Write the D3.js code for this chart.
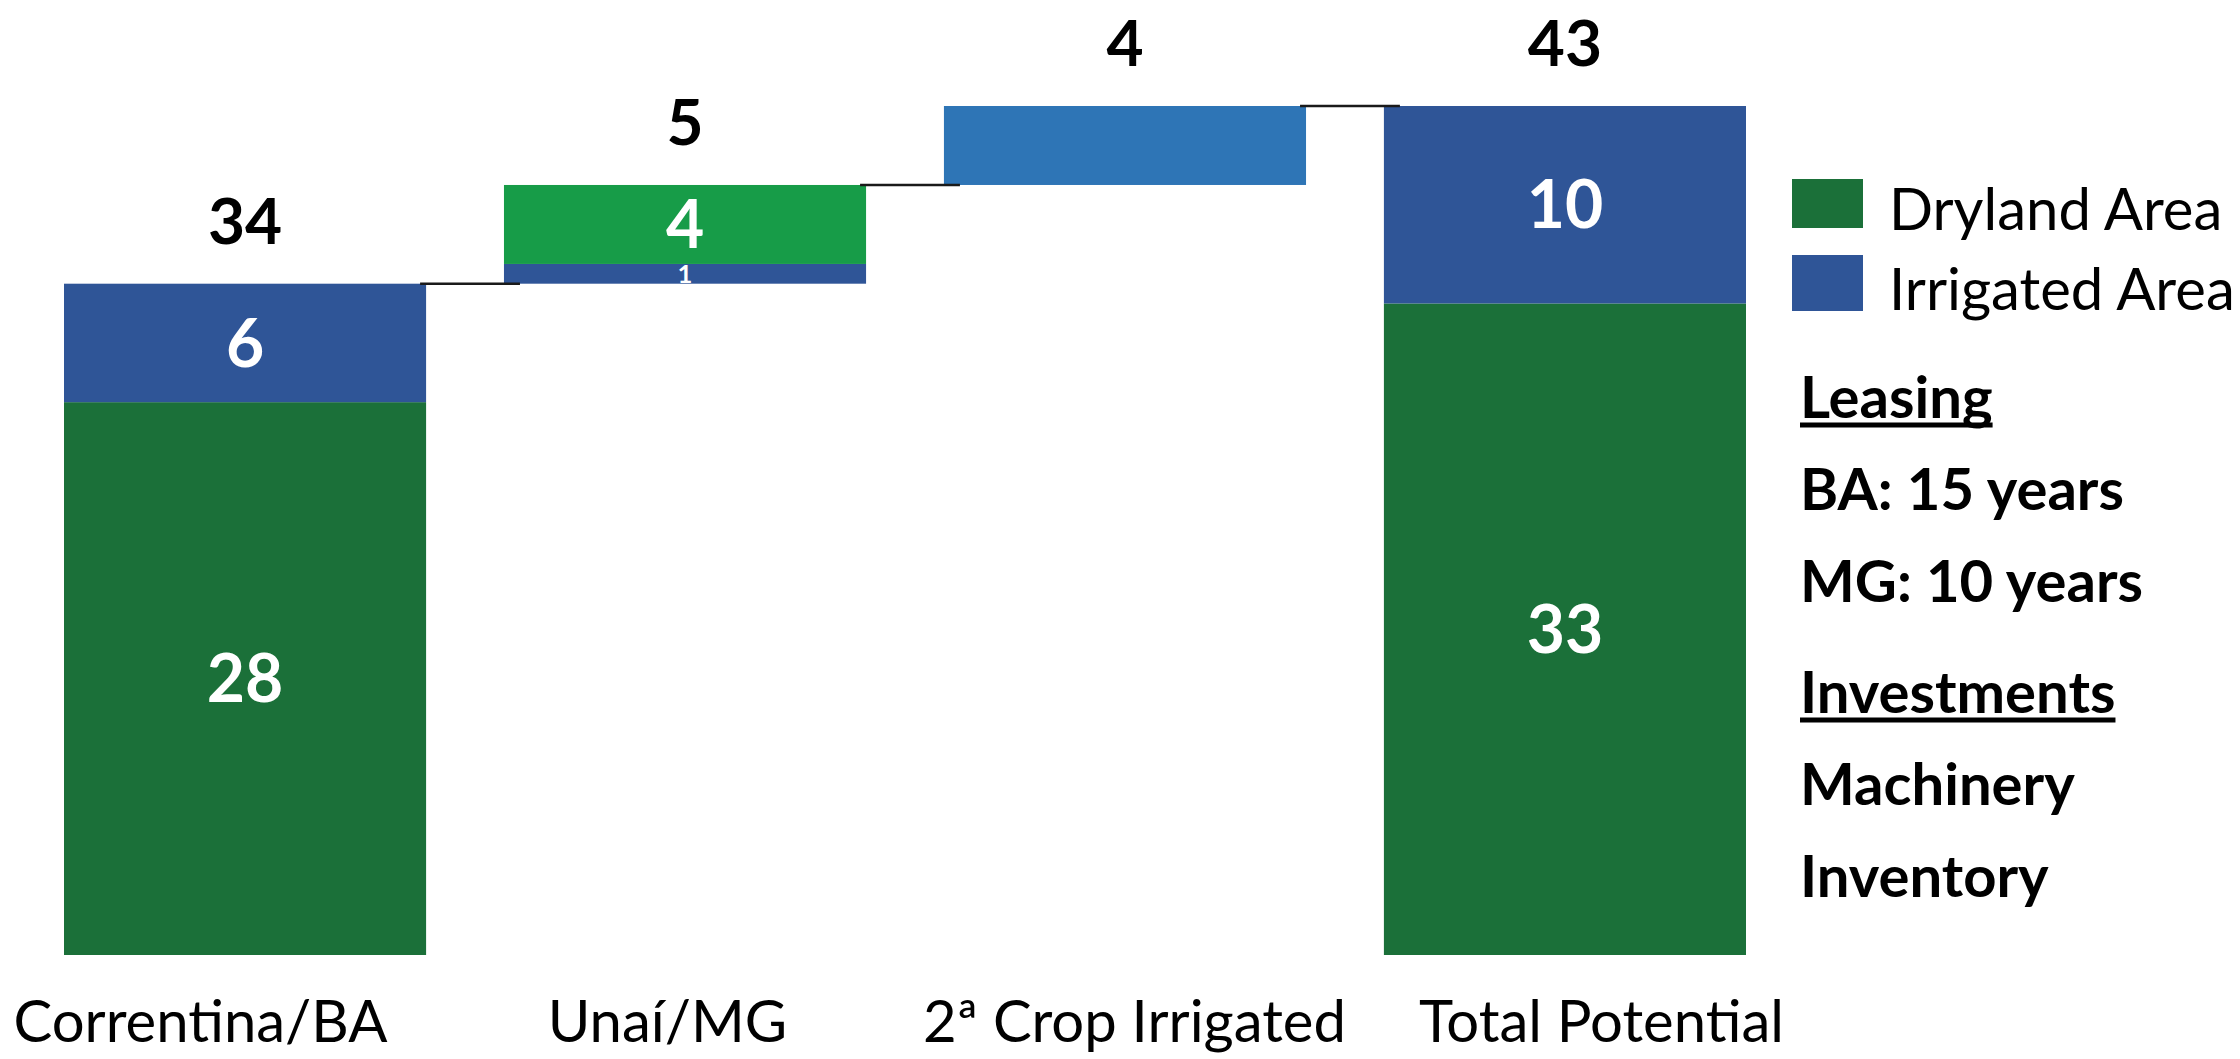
<!DOCTYPE html>
<html>
<head>
<meta charset="utf-8">
<script src="https://cdn.jsdelivr.net/npm/d3@7"></script>
<style>
  body { margin: 0; background: #fff; }
  svg { display: block; font-family: Lato, "Open Sans", sans-serif; }
</style>
</head>
<body>
<svg id="chart"></svg>
<script>
// values
const categories = ["Correntina/BA", "Unaí/MG", "2ª Crop Irrigated", "Total Potential"]
const dryland = [28, 4, 0, 33]
const irrigated = [6, 1, 4, 10]
const isTotal = [false, false, false, true]
const irrigatedBelow = [false, true, true, false]
const legendItems = ["Dryland Area", "Irrigated Area"]
const noteLines = ["Leasing", "BA: 15 years", "MG: 10 years", "Investments", "Machinery", "Inventory"]
const noteHeads = ["Leasing", "Investments"]

const width = 2240, height = 1059

const svg = d3.select("#chart")
  .attr("width", width)
  .attr("height", height)

// waterfall bases
let running = 0
const bars = categories.map(function(c, i) {
  const total = dryland[i] + irrigated[i]
  const base = isTotal[i] ? 0 : running
  if (!isTotal[i]) running += total
  return {cat: c, i: i, base: base, total: total, top: base + total}
})

const x = d3.scaleBand()
  .domain(categories)
  .range([64, 1746])
  .paddingInner(0.177)

const y = d3.scaleLinear()
  .domain([0, d3.max(bars, function(d) { return d.top })])
  .range([955, 106])

const bw = x.bandwidth()

function fillFor(kind, i) {
  if (kind === "dry") return i === 1 ? "#179C48" : "#1B7039"
  return i === 2 ? "#2E75B6" : "#2F5597"
}

// segments
const segments = []
bars.forEach(function(b) {
  const parts = irrigatedBelow[b.i]
    ? [["irr", irrigated[b.i]], ["dry", dryland[b.i]]]
    : [["dry", dryland[b.i]], ["irr", irrigated[b.i]]]
  let lo = b.base
  parts.forEach(function(p) {
    if (p[1] > 0) {
      segments.push({i: b.i, cat: b.cat, kind: p[0], v: p[1], lo: lo, hi: lo + p[1], single: dryland[b.i] === 0 || irrigated[b.i] === 0})
    }
    lo += p[1]
  })
})

svg.append("g").selectAll("rect")
  .data(segments)
  .enter().append("rect")
  .attr("x", function(d) { return x(d.cat) })
  .attr("width", bw)
  .attr("y", function(d) { return y(d.hi) })
  .attr("height", function(d) { return y(d.lo) - y(d.hi) })
  .attr("fill", function(d) { return fillFor(d.kind, d.i) })

// connectors
const links = bars.slice(0, -1)
svg.append("g").selectAll("line")
  .data(links)
  .enter().append("line")
  .attr("x1", function(d) { return x(d.cat) + bw - 6 })
  .attr("x2", function(d) { return x(categories[d.i + 1]) + 16 })
  .attr("y1", function(d) { return y(d.top) })
  .attr("y2", function(d) { return y(d.top) })
  .attr("stroke", "#1a1a1a")
  .attr("stroke-width", 2.5)

// inside labels
svg.append("g").selectAll("text")
  .data(segments.filter(function(d) { return !d.single }))
  .enter().append("text")
  .attr("x", function(d) { return x(d.cat) + bw / 2 })
  .attr("y", function(d) { return (y(d.lo) + y(d.hi)) / 2 })
  .attr("dy", "0.36em")
  .attr("text-anchor", "middle")
  .attr("fill", "#fff")
  .attr("font-weight", 700)
  .attr("font-size", function(d) { return Math.min(66, (y(d.lo) - y(d.hi)) * 1.3) })
  .text(function(d) { return d.v })

// totals above bars
svg.append("g").selectAll("text")
  .data(bars)
  .enter().append("text")
  .attr("x", function(d) { return x(d.cat) + bw / 2 })
  .attr("y", function(d) { return y(d.top) - 40 })
  .attr("text-anchor", "middle")
  .attr("fill", "#000")
  .attr("font-weight", 700)
  .attr("font-size", 64)
  .text(function(d) { return d.total })

// category axis
const xLabel = d3.scalePoint()
  .domain(categories)
  .range([200, 1601])

const axis = svg.append("g")
  .attr("transform", "translate(0,1000)")
  .call(d3.axisBottom(xLabel).tickSize(0).tickPadding(0))
axis.select(".domain").remove()
axis.selectAll("text")
  .attr("font-family", "Lato, 'Open Sans', sans-serif")
  .attr("font-size", 58)
  .attr("fill", "#000")
  .attr("dy", "0.72em")

// legend
const legend = svg.append("g")
  .selectAll("g")
  .data(legendItems)
  .enter().append("g")
  .attr("transform", function(d, i) { return "translate(1792," + (179 + i * 76) + ")" })

legend.append("rect")
  .attr("width", 71)
  .attr("height", function(d, i) { return i === 0 ? 49 : 56 })
  .attr("fill", function(d, i) { return i === 0 ? "#1B7039" : "#2F5597" })

legend.append("text")
  .attr("x", 97)
  .attr("y", function(d, i) { return i === 0 ? 51 : 55 })
  .attr("font-size", 58)
  .attr("fill", "#000")
  .text(function(d) { return d })

// notes
let ny = 418
const noteY = noteLines.map(function(t, i) {
  if (i > 0) ny += 92 + (noteHeads.indexOf(t) >= 0 ? 19 : 0)
  return ny
})

const notes = svg.append("g")
  .selectAll("text")
  .data(noteLines)
  .enter().append("text")
  .attr("x", 1800)
  .attr("y", function(d, i) { return noteY[i] })
  .attr("font-size", 58)
  .attr("font-weight", 700)
  .attr("fill", "#000")
  .text(function(d) { return d })

notes.each(function(d, i) {
  if (noteHeads.indexOf(d) < 0) return
  const w = this.getComputedTextLength()
  svg.append("line")
    .attr("x1", 1800)
    .attr("x2", 1800 + w)
    .attr("y1", noteY[i] + 7)
    .attr("y2", noteY[i] + 7)
    .attr("stroke", "#000")
    .attr("stroke-width", 5)
})
</script>
</body>
</html>
